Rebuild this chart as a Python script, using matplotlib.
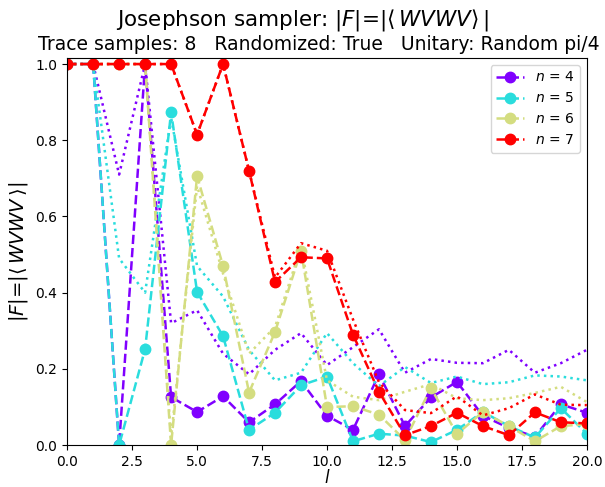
import numpy as np
import matplotlib
matplotlib.use("Agg")
import matplotlib.pyplot as plt

layers = list(range(21))
n_values = [4, 5, 6, 7]

sampled_n4 = [1.0, 1.0, 0.0, 1.0, 0.126, 0.087, 0.128, 0.06, 0.107, 0.168, 0.077, 0.04, 0.186, 0.05, 0.125, 0.166, 0.077, 0.045, 0.022, 0.107, 0.085]
sampled_n5 = [1.0, 1.0, 0.0, 0.252, 0.874, 0.402, 0.286, 0.04, 0.085, 0.157, 0.18, 0.01, 0.03, 0.025, 0.008, 0.04, 0.087, 0.05, 0.02, 0.097, 0.03]
sampled_n6 = [1.0, 1.0, 1.0, 1.0, 0.0, 0.706, 0.47, 0.138, 0.297, 0.51, 0.1, 0.102, 0.08, 0.013, 0.15, 0.029, 0.087, 0.05, 0.01, 0.05, 0.055]
sampled_n7 = [1.0, 1.0, 1.0, 1.0, 1.0, 0.815, 1.0, 0.72, 0.428, 0.493, 0.49, 0.29, 0.14, 0.026, 0.05, 0.085, 0.05, 0.026, 0.086, 0.06, 0.057]

exact_n4 = [1.0, 1.0, 0.71, 1.0, 0.32, 0.354, 0.24, 0.186, 0.25, 0.294, 0.21, 0.257, 0.304, 0.19, 0.226, 0.216, 0.215, 0.25, 0.19, 0.215, 0.25]
exact_n5 = [1.0, 1.0, 0.49, 0.40, 0.86, 0.47, 0.39, 0.25, 0.17, 0.19, 0.294, 0.215, 0.155, 0.205, 0.163, 0.18, 0.16, 0.165, 0.183, 0.18, 0.17]
exact_n6 = [1.0, 1.0, 1.0, 1.0, 0.02, 0.68, 0.45, 0.24, 0.31, 0.52, 0.17, 0.127, 0.118, 0.14, 0.16, 0.123, 0.118, 0.123, 0.137, 0.153, 0.113]
exact_n7 = [1.0, 1.0, 1.0, 1.0, 1.0, 0.815, 1.0, 0.72, 0.44, 0.53, 0.51, 0.33, 0.165, 0.092, 0.084, 0.128, 0.078, 0.097, 0.133, 0.106, 0.105]

sampled = [sampled_n4, sampled_n5, sampled_n6, sampled_n7]
exact = [exact_n4, exact_n5, exact_n6, exact_n7]

colors = plt.cm.rainbow(np.linspace(0, 1, len(n_values)))

fig = plt.figure(figsize=(6.05, 4.87), dpi=100)
ax = fig.add_axes([0.111, 0.086, 0.859, 0.795])

for n, s, e, c in zip(n_values, sampled, exact, colors):
    ax.plot(layers, s, '--o', color=c, lw=1.8, ms=7.5, label=r"$n$ = %d" % n)
    ax.plot(layers, e, ':', color=c, lw=1.8)

ax.set_xlim(0, 20)
ax.set_ylim(0, 1.016)
ax.set_xticks([0, 2.5, 5, 7.5, 10, 12.5, 15, 17.5, 20])
ax.set_yticks([0, 0.2, 0.4, 0.6, 0.8, 1.0])
ax.tick_params(labelsize=10)
ax.set_xlabel(r"$l$", fontsize=12, labelpad=0)
ax.set_ylabel(r"$|F|$=$|\langle\,WVWV\,\rangle|$", fontsize=14)
ax.legend(loc="upper right", fontsize=10)

fig.suptitle(r"Josephson sampler: $|F|$=$|\langle\,WVWV\rangle\,|$", fontsize=15.5, x=0.5, y=0.985)
ax.set_title("Trace samples: 8   Randomized: True   Unitary: Random pi/4", fontsize=13.5, pad=6, x=0.485)

fig.savefig("out.png", dpi=100)
